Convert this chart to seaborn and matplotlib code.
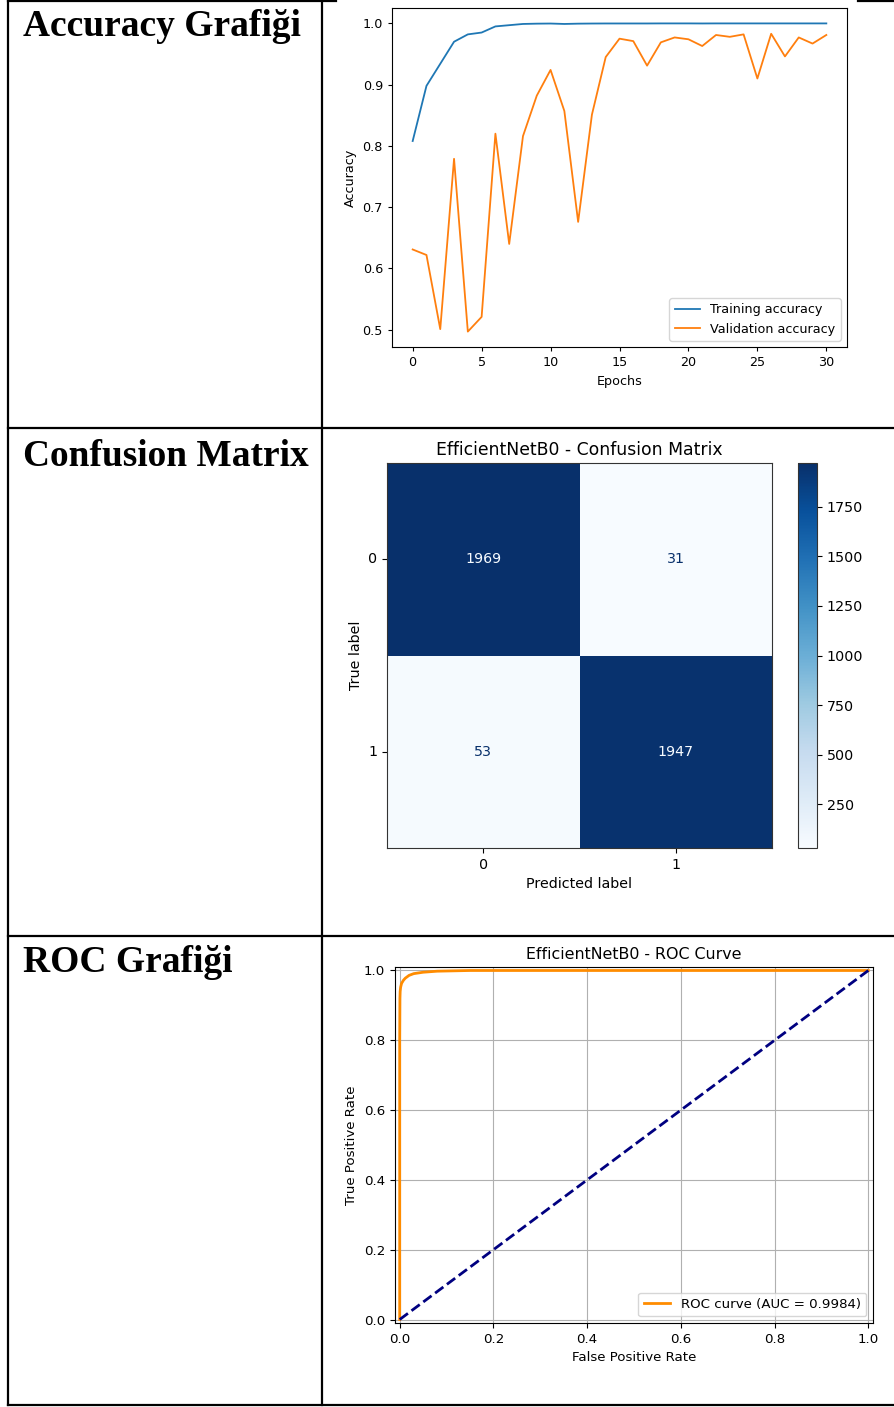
import numpy as np
import pandas as pd
import matplotlib
matplotlib.use("Agg")
import matplotlib.pyplot as plt
from matplotlib.lines import Line2D
import seaborn as sns

# ---------------- data ----------------
epochs = list(range(31))
train_acc = [0.808, 0.898, 0.934, 0.970, 0.982, 0.985, 0.995, 0.997, 0.999, 0.9995,
             0.9997, 0.999, 0.9995, 0.9997, 0.9998, 0.9998, 0.9998, 0.9998, 0.9999, 0.9999,
             0.9999, 0.9998, 0.9999, 0.9999, 0.9999, 0.9999, 0.9999, 0.9999, 0.9999, 0.9999, 0.9999]
val_acc = [0.631, 0.622, 0.501, 0.779, 0.497, 0.521, 0.820, 0.640, 0.816, 0.882,
           0.924, 0.857, 0.676, 0.851, 0.945, 0.975, 0.971, 0.931, 0.969, 0.977,
           0.974, 0.963, 0.981, 0.978, 0.982, 0.910, 0.983, 0.946, 0.977, 0.967, 0.981]

cm_labels = ["0", "1"]
cm_values = [[1969, 31], [53, 1947]]
cbar_ticks = [250, 500, 750, 1000, 1250, 1500, 1750]

roc_fpr = [0.0, 0.0, 0.0005, 0.001, 0.002, 0.004, 0.008, 0.012, 0.02, 0.03, 0.05, 0.08, 0.15, 1.0]
roc_tpr = [0.0, 0.80, 0.92, 0.94, 0.952, 0.963, 0.972, 0.978, 0.986, 0.991, 0.995, 0.998, 1.0, 1.0]
roc_auc = 0.9984

row_titles = ["Accuracy Grafiği", "Confusion Matrix", "ROC Grafiği"]

W, H = 894, 1407
fig = plt.figure(figsize=(W / 100, H / 100), dpi=100)


def fx(px):
    return px / W


def fy(py):
    return 1 - py / H


def rect(x0, y0, x1, y1):
    return [fx(x0), fy(y1), fx(x1 - x0), (y1 - y0) / H]


# ---------------- table lines ----------------
lw_tab = 1.6
segments = [
    ((8, 8), (0, 1405)),
    ((322, 322), (0, 1405)),
    ((8, 336), (1, 1)),
    ((858, 894), (1, 1)),
    ((8, 894), (428, 428)),
    ((8, 894), (936, 936)),
    ((8, 894), (1405, 1405)),
]
for xs, ys in segments:
    fig.add_artist(Line2D([fx(v) for v in xs], [fy(v) for v in ys],
                          transform=fig.transFigure, color="black", lw=lw_tab))

title_font = dict(family="Liberation Serif", weight="bold", color="black")
fig.text(fx(23), fy(36), row_titles[0], fontsize=27, va="baseline", ha="left", **title_font)
fig.text(fx(23), fy(466), row_titles[1], fontsize=26.9, va="baseline", ha="left", **title_font)
fig.text(fx(23), fy(972), row_titles[2], fontsize=27, va="baseline", ha="left", **title_font)

# ---------------- accuracy chart ----------------
fs_a = 9.2
ax1 = fig.add_axes(rect(392, 8, 847, 347))
acc_df = pd.DataFrame({
    "Epochs": epochs * 2,
    "Accuracy": train_acc + val_acc,
    "Series": ["Training accuracy"] * len(epochs) + ["Validation accuracy"] * len(epochs),
})
sns.lineplot(data=acc_df, x="Epochs", y="Accuracy", hue="Series",
             palette=["#1f77b4", "#ff7f0e"], lw=1.3, ax=ax1)
ax1.set_xticks([0, 5, 10, 15, 20, 25, 30])
ax1.set_yticks([0.5, 0.6, 0.7, 0.8, 0.9, 1.0])
ax1.tick_params(labelsize=fs_a, length=3)
ax1.set_xlabel("Epochs", fontsize=fs_a)
ax1.set_ylabel("Accuracy", fontsize=fs_a)
ax1.legend(loc="lower right", fontsize=fs_a, title=None)

# ---------------- confusion matrix ----------------
fs_c = 10.3
ax2 = fig.add_axes(rect(387, 463, 772, 848))
cax = fig.add_axes(rect(798, 463, 817, 848))
cm_df = pd.DataFrame(cm_values, index=cm_labels, columns=cm_labels)
sns.heatmap(cm_df, cmap="Blues", annot=True, fmt="d", ax=ax2, cbar_ax=cax,
            annot_kws={"fontsize": fs_c}, cbar_kws={"ticks": cbar_ticks})
cmap = plt.get_cmap("Blues")
vmax = max(max(r) for r in cm_values)
vmin = min(min(r) for r in cm_values)
thr = (vmax + vmin) / 2
for t in ax2.texts:
    val = int(t.get_text())
    t.set_color(cmap(0.0) if val > thr else cmap(1.0))
for sp in ax2.spines.values():
    sp.set_visible(True)
    sp.set_linewidth(0.8)
    sp.set_color("#333333")
ax2.set_yticklabels(cm_labels, rotation=0)
ax2.set_xticklabels(cm_labels, rotation=0)
ax2.tick_params(labelsize=fs_c, length=3.5)
ax2.set_xlabel("Predicted label", fontsize=fs_c)
ax2.set_ylabel("True label", fontsize=fs_c)
ax2.set_title("EfficientNetB0 - Confusion Matrix", fontsize=12.4, pad=6)
cax.tick_params(labelsize=fs_c, length=3.5)
cb = ax2.collections[0].colorbar
cb.outline.set_visible(True)
cb.outline.set_linewidth(0.8)
cb.outline.set_edgecolor("#333333")

# ---------------- ROC ----------------
fs_r = 9.6
ax3 = fig.add_axes(rect(395, 967, 873, 1323))
roc_df = pd.DataFrame({"fpr": roc_fpr, "tpr": roc_tpr})
sns.lineplot(data=roc_df, x="fpr", y="tpr", color="darkorange", lw=2, sort=False,
             estimator=None, label=f"ROC curve (AUC = {roc_auc:.4f})", ax=ax3)
diag = pd.DataFrame({"x": [0.0, 1.0], "y": [0.0, 1.0]})
sns.lineplot(data=diag, x="x", y="y", color="navy", lw=2, linestyle="--", ax=ax3)
ax3.set_xlim(-0.01, 1.01)
ax3.set_ylim(-0.01, 1.01)
ax3.set_xticks([0.0, 0.2, 0.4, 0.6, 0.8, 1.0])
ax3.set_yticks([0.0, 0.2, 0.4, 0.6, 0.8, 1.0])
ax3.grid(True, color="#b0b0b0", lw=0.8)
ax3.set_axisbelow(True)
ax3.tick_params(labelsize=fs_r, length=3.5)
ax3.set_xlabel("False Positive Rate", fontsize=fs_r)
ax3.set_ylabel("True Positive Rate", fontsize=fs_r)
ax3.set_title("EfficientNetB0 - ROC Curve", fontsize=11.4, pad=6)
ax3.legend(loc="lower right", fontsize=fs_r)

fig.savefig("out.png", dpi=100)
